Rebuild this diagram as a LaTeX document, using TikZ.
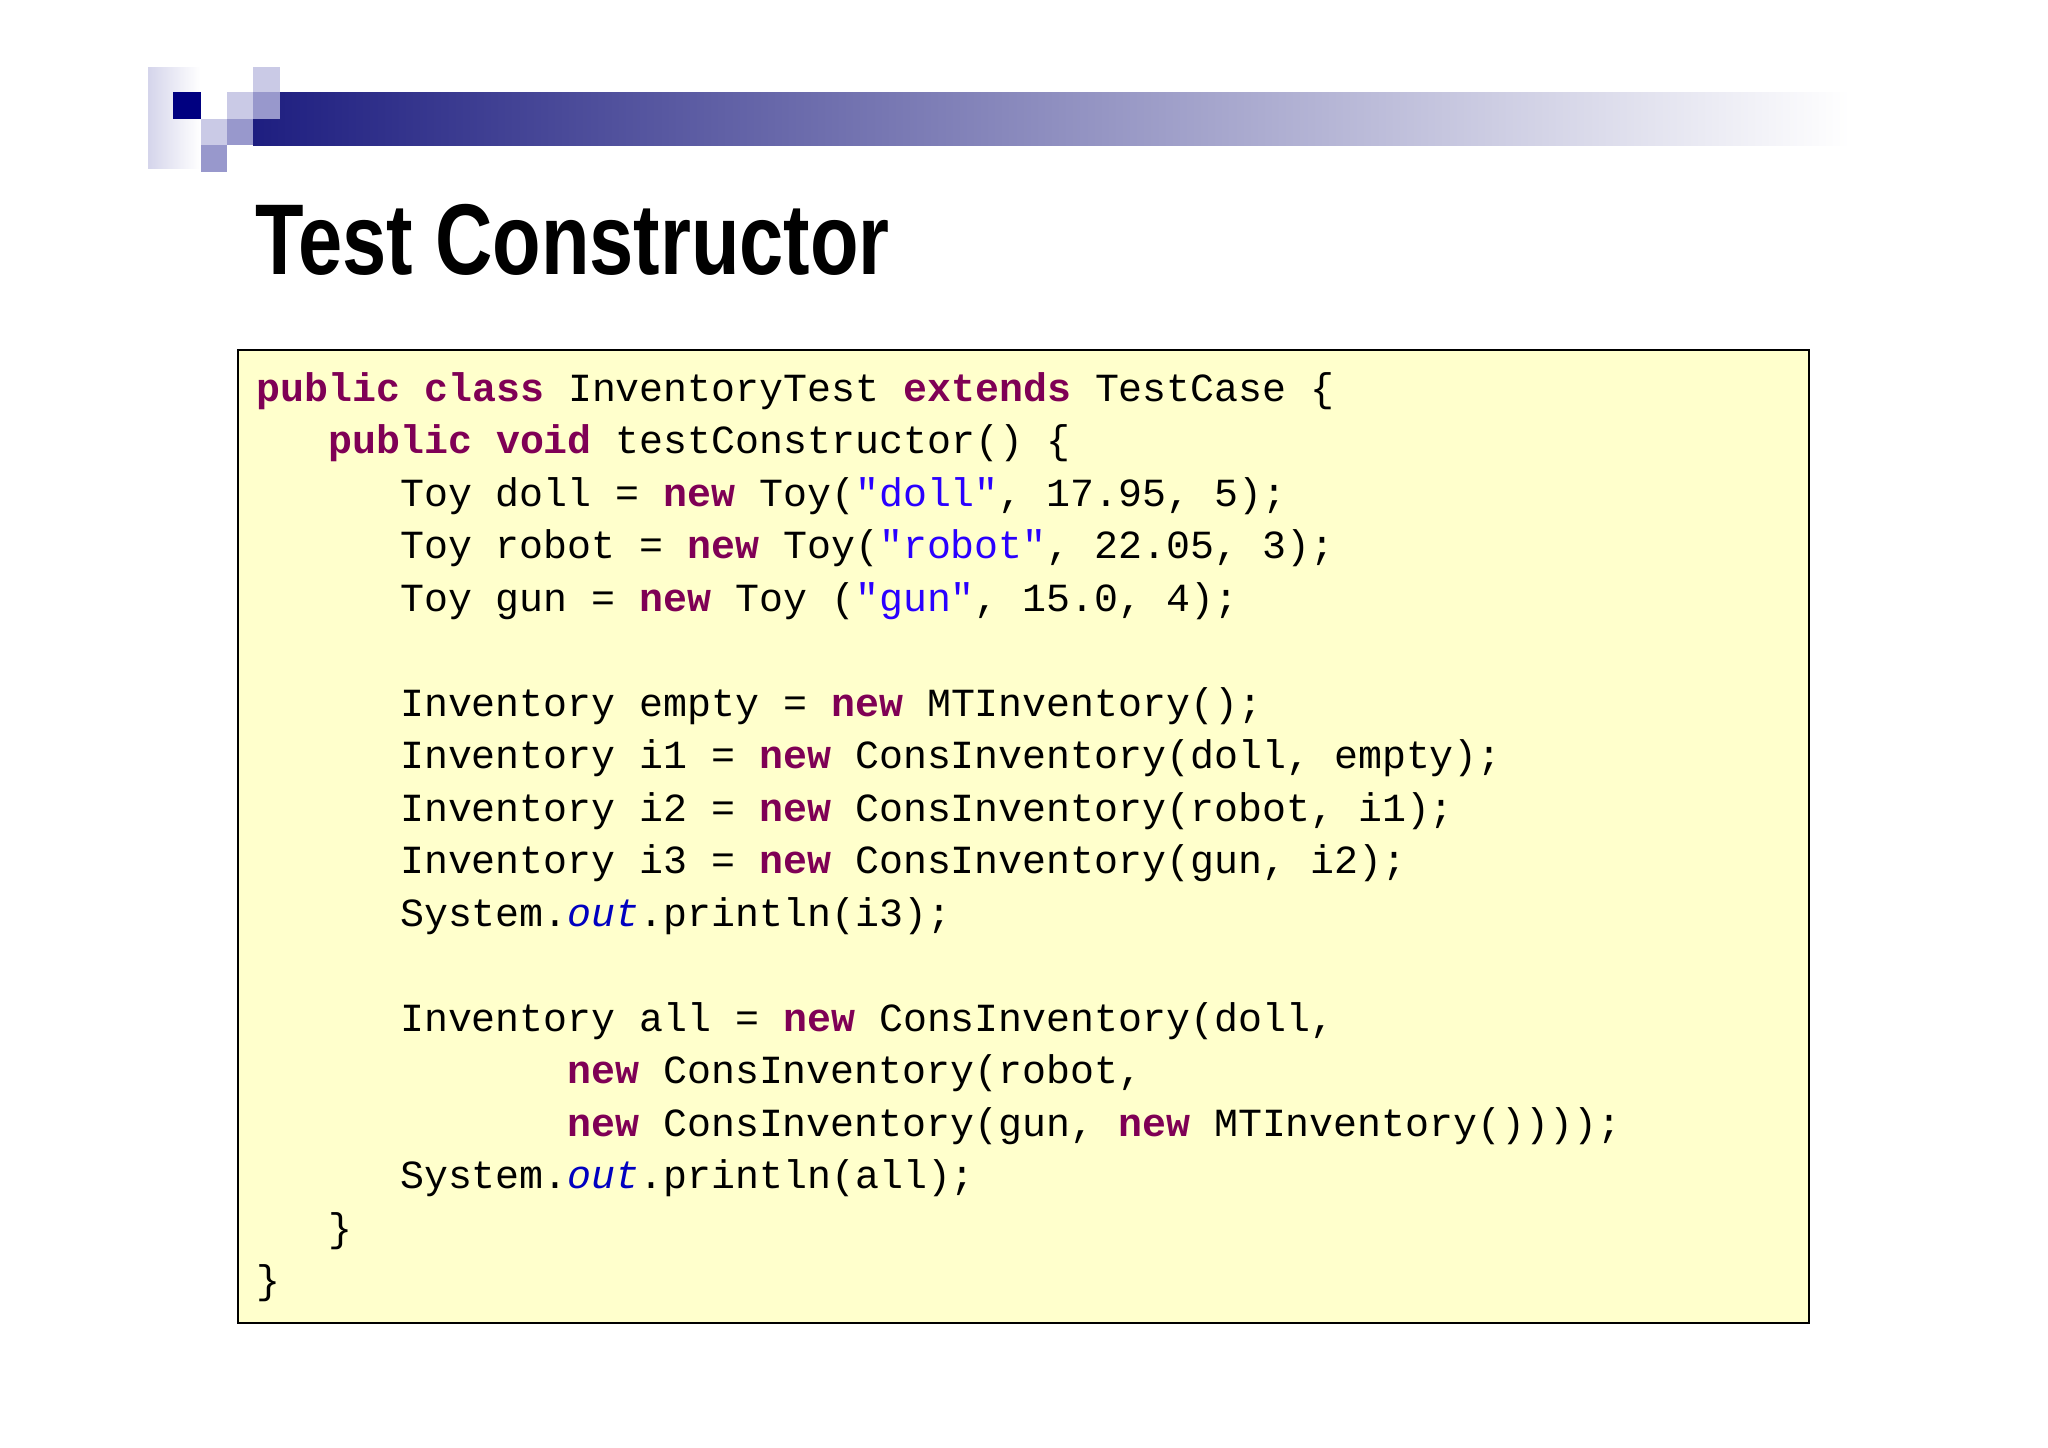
\documentclass[tikz,border=0pt]{standalone}
\usepackage{fontspec}
\setmainfont{Liberation Sans}
\setmonofont{Liberation Mono}
\definecolor{kw}{HTML}{7F0055}
\definecolor{str}{HTML}{2A00FF}
\definecolor{fld}{HTML}{0000C0}
\definecolor{navy}{HTML}{000080}
\definecolor{lightsq}{HTML}{CACAE6}
\definecolor{medsq}{HTML}{9898CC}
\definecolor{barnavy}{HTML}{1E1E80}
\definecolor{codebg}{HTML}{FFFFCC}
\newcommand{\kw}[1]{\textcolor{kw}{\textbf{#1}}}
\newcommand{\st}[1]{\textcolor{str}{#1}}
\newcommand{\fl}[1]{\textcolor{fld}{\textit{#1}}}
\begin{document}
\begin{tikzpicture}[x=0.01cm,y=-0.01cm,
  code/.style={anchor=base west,inner sep=0pt,font=\fontsize{11.35}{13}\selectfont\ttfamily}]
\useasboundingbox (0,0) rectangle (2048,1447);
\fill[white] (0,0) rectangle (2048,1447);
% decoration
\shade[left color=lightsq!80!white,right color=white] (148,67) rectangle (200,168);
\shade[left color=barnavy,right color=white] (253,92) rectangle (1850,145);
\fill[navy] (173,92) rectangle (201,119);
\fill[lightsq] (201,119) rectangle (227,145);
\fill[lightsq] (227,92) rectangle (253,119);
\fill[lightsq] (253,67) rectangle (280,92);
\fill[medsq] (227,119) rectangle (253,145);
\fill[medsq] (253,92) rectangle (280,119);
\fill[medsq] (201,145) rectangle (227,172);
% title
\node[anchor=base west,inner sep=0pt] (title) at (255,274)
  {\scalebox{0.79}[1]{\fontsize{28.6}{30}\selectfont\bfseries Test Constructor}};
% code box
\draw[black,line width=0.8pt,fill=codebg] (238,350) rectangle (1809,1323);
\coordinate (box) at (238,350);
\def\cx#1{256+23.9*#1}
\node[code] (l0) at ({\cx{0}},401) {\kw{public} \kw{class} InventoryTest \kw{extends} TestCase \{};
\node[code] (l1) at ({\cx{3}},453.5) {\kw{public} \kw{void} testConstructor() \{};
\node[code] (l2) at ({\cx{6}},506) {Toy doll = \kw{new} Toy(\st{"doll"}, 17.95, 5);};
\node[code] (l3) at ({\cx{6}},558.5) {Toy robot = \kw{new} Toy(\st{"robot"}, 22.05, 3);};
\node[code] (l4) at ({\cx{6}},611) {Toy gun = \kw{new} Toy (\st{"gun"}, 15.0, 4);};
\node[code] (l6) at ({\cx{6}},716) {Inventory empty = \kw{new} MTInventory();};
\node[code] (l7) at ({\cx{6}},768.5) {Inventory i1 = \kw{new} ConsInventory(doll, empty);};
\node[code] (l8) at ({\cx{6}},821) {Inventory i2 = \kw{new} ConsInventory(robot, i1);};
\node[code] (l9) at ({\cx{6}},873.5) {Inventory i3 = \kw{new} ConsInventory(gun, i2);};
\node[code] (l10) at ({\cx{6}},926) {System.\fl{out}.println(i3);};
\node[code] (l12) at ({\cx{6}},1031) {Inventory all = \kw{new} ConsInventory(doll,};
\node[code] (l13) at ({\cx{13}},1083.5) {\kw{new} ConsInventory(robot,};
\node[code] (l14) at ({\cx{13}},1136) {\kw{new} ConsInventory(gun, \kw{new} MTInventory())));};
\node[code] (l15) at ({\cx{6}},1188.5) {System.\fl{out}.println(all);};
\node[code] (l16) at ({\cx{3}},1241) {\}};
\node[code] (l17) at ({\cx{0}},1293.5) {\}};
\end{tikzpicture}
\end{document}
